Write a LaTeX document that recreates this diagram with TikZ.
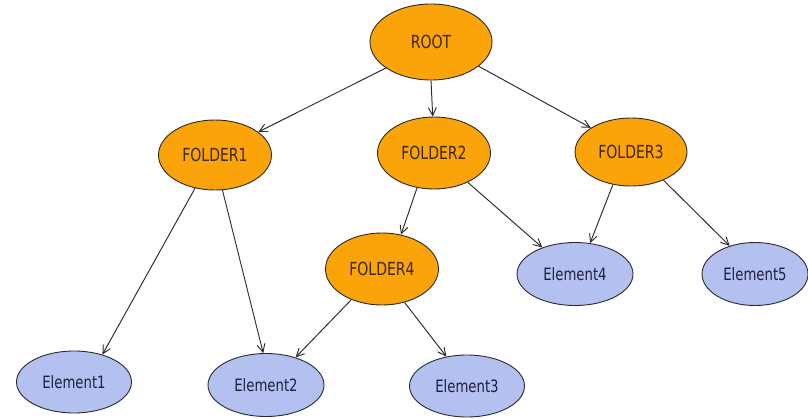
\documentclass[tikz,border=0pt]{standalone}
\usepackage{fontspec}
\setmainfont[FakeStretch=0.78]{DejaVu Sans}
\usetikzlibrary{arrows.meta,shapes.geometric}
\definecolor{folderfill}{HTML}{FBA40A}
\definecolor{elemfill}{HTML}{B4C0F0}
\definecolor{edgecol}{HTML}{2A2A2A}
\definecolor{foldertext}{HTML}{3A2808}
\definecolor{elemtext}{HTML}{1E2040}
\begin{document}
\begin{tikzpicture}[x=1pt,y=-1pt,
  folder/.style={ellipse, draw=edgecol, line width=0.9pt, fill=folderfill, inner sep=0pt,
    text=foldertext, font=\fontsize{18}{21}\selectfont},
  elem/.style={ellipse, draw=edgecol, line width=0.9pt, fill=elemfill, inner sep=0pt,
    text=elemtext, font=\fontsize{17}{20}\selectfont},
  link/.style={draw=edgecol, line width=0.95pt, -{Straight Barb[length=8pt,width=8pt]}}]
\useasboundingbox (0,0) rectangle (808,418);
\node[folder, minimum width=122pt, minimum height=76pt] (root) at (431,42) {ROOT};
\node[folder, minimum width=113pt, minimum height=70pt] (f1) at (215,155) {FOLDER1};
\node[folder, minimum width=113pt, minimum height=72pt] (f2) at (434,153) {FOLDER2};
\node[folder, minimum width=112pt, minimum height=68pt] (f3) at (631,152) {FOLDER3};
\node[folder, minimum width=113pt, minimum height=72pt] (f4) at (382,269) {FOLDER4};
\node[elem, minimum width=115pt, minimum height=62pt] (e1) at (74,382) {Element1};
\node[elem, minimum width=116pt, minimum height=63pt] (e2) at (266,385) {Element2};
\node[elem, minimum width=115pt, minimum height=62pt] (e3) at (467,386) {Element3};
\node[elem, minimum width=116pt, minimum height=63pt] (e4) at (575,274) {Element4};
\node[elem, minimum width=106pt, minimum height=63pt] (e5) at (755,274) {Element5};
\draw[link] (root.210) -- (f1.28);
\draw[link] (root.-90) -- (f2.92);
\draw[link] (root.-27) -- (f3.149);
\draw[link] (f2.-116) -- (f4.61);
\draw[link] (f2.-41) -- (e4.141);
\draw[link] (f3.-119) -- (e4.64);
\draw[link] (f3.-41) -- (e5.132);
\draw[link] (f1.-121) -- (e1.44);
\draw[link] (f1.-78) -- (e2.95);
\draw[link] (f4.-135) -- (e2.43);
\draw[link] (f4.-56) -- (e3.125);
\end{tikzpicture}
\end{document}
